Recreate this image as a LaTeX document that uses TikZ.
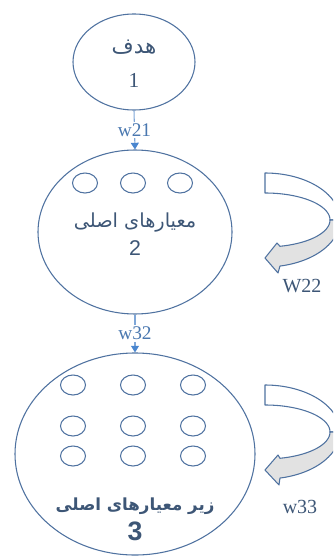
\documentclass[tikz,border=0pt]{standalone}
\usepackage{fontspec}
\setmainfont{Liberation Serif}
\newfontfamily\arabicfont[Script=Arabic]{DejaVu Sans}
\newfontfamily\numfont{Liberation Sans}
\TeXXeTstate=1
\usetikzlibrary{shapes.geometric,arrows.meta}
\definecolor{edge}{HTML}{4F72A0}
\definecolor{lineblue}{HTML}{7FA7D8}
\definecolor{tipblue}{HTML}{4A86CF}
\definecolor{txtdark}{HTML}{3D5676}
\definecolor{txtblue}{HTML}{4A78B0}
\definecolor{grayfill}{HTML}{E2E2E2}
\tikzset{
  bigell/.style={draw=edge, line width=0.8pt, ellipse, inner sep=0pt},
  small/.style={draw=edge, line width=0.8pt, ellipse, inner sep=0pt, minimum width=18.75pt, minimum height=15pt},
  conn/.style={draw=lineblue, line width=0.8pt, -{Triangle[width=6pt,length=5pt,color=tipblue]}},
  wlab/.style={fill=white, inner sep=1.5pt, text=txtblue, font=\fontsize{14.5}{16}\selectfont},
  rlab/.style={inner sep=0pt, text=txtdark, font=\fontsize{15}{17}\selectfont},
  fa/.style={inner sep=0pt, text=txtdark},
  band/.style={draw=edge, line width=0.8pt, line join=round}
}
\begin{document}
\begin{tikzpicture}[x=0.75pt,y=-0.75pt]
\useasboundingbox (0,0) rectangle (333,556);
\clip (0,0) rectangle (333,556);
% main ellipses
\node[bigell, minimum width=91.5pt, minimum height=72pt] (n1) at (134,62) {};
\node[bigell, minimum width=145.5pt, minimum height=123pt] (n2) at (135,232) {};
\node[bigell, minimum width=180pt, minimum height=151.5pt] (n3) at (135,454) {};
% texts
\node[fa, font=\arabicfont\fontsize{16}{18}\selectfont] (t1) at (134,47) {\beginR هدف\endR};
\node[fa, font=\fontsize{16}{18}\selectfont] (d1) at (134,80) {1};
\node[fa, font=\arabicfont\fontsize{14.5}{16}\selectfont] (t2) at (135,223) {\beginR معیارهای اصلی\endR};
\node[fa, font=\numfont\fontsize{16}{18}\selectfont] (d2) at (135,248) {2};
\node[fa, font=\arabicfont\bfseries\fontsize{12.5}{15}\selectfont] (t3) at (135,506) {\beginR زیر معیارهای اصلی\endR};
\node[fa, font=\numfont\bfseries\fontsize{20}{22}\selectfont] (d3) at (135,531) {3};
% small circles in node 2
\node[small] (a1) at (85,183) {};
\node[small] (a2) at (133,183) {};
\node[small] (a3) at (180,183) {};
% small circles in node 3
\node[small] (b11) at (73,385) {};
\node[small] (b12) at (133,385) {};
\node[small] (b13) at (193,385) {};
\node[small] (b21) at (73,426) {};
\node[small] (b22) at (133,426) {};
\node[small] (b23) at (193,426) {};
\node[small] (b31) at (73,456) {};
\node[small] (b32) at (133,456) {};
\node[small] (b33) at (193,456) {};
% connectors
\draw[conn] (n1.south) -- node[wlab] (w21) {w21} (n2.north);
\draw[conn] (n2.south) -- node[wlab] (w32) {w32} (n3.north);
% curved arrow for node 2
\draw[band, fill=white]
  plot[domain=-90:0, samples=40, variable=\t] ({265+75*cos(\t)},{220+47*sin(\t)})
  -- plot[domain=0:-90, samples=40, variable=\t] ({265+65*cos(\t)},{220+27*sin(\t)}) -- cycle;
\draw[band, fill=grayfill]
  plot[domain=0:78.5, samples=40, variable=\t] ({265+75*cos(\t)},{220+47*sin(\t)})
  -- (278,273) -- (265,258) -- (277,243)
  -- plot[domain=76.7:0, samples=40, variable=\t] ({265+65*cos(\t)},{220+27*sin(\t)}) -- cycle;
% curved arrow for node 3
\draw[band, fill=white]
  plot[domain=-90:0, samples=40, variable=\t] ({265+75*cos(\t)},{432+47*sin(\t)})
  -- plot[domain=0:-90, samples=40, variable=\t] ({265+65*cos(\t)},{432+27*sin(\t)}) -- cycle;
\draw[band, fill=grayfill]
  plot[domain=0:78.5, samples=40, variable=\t] ({265+75*cos(\t)},{432+47*sin(\t)})
  -- (279,485) -- (265,470) -- (278,455)
  -- plot[domain=76.7:0, samples=40, variable=\t] ({265+65*cos(\t)},{432+27*sin(\t)}) -- cycle;
% loop labels
\node[rlab] (w22) at (302,286) {W22};
\node[rlab] (w33) at (300,507) {w33};
\end{tikzpicture}
\end{document}
